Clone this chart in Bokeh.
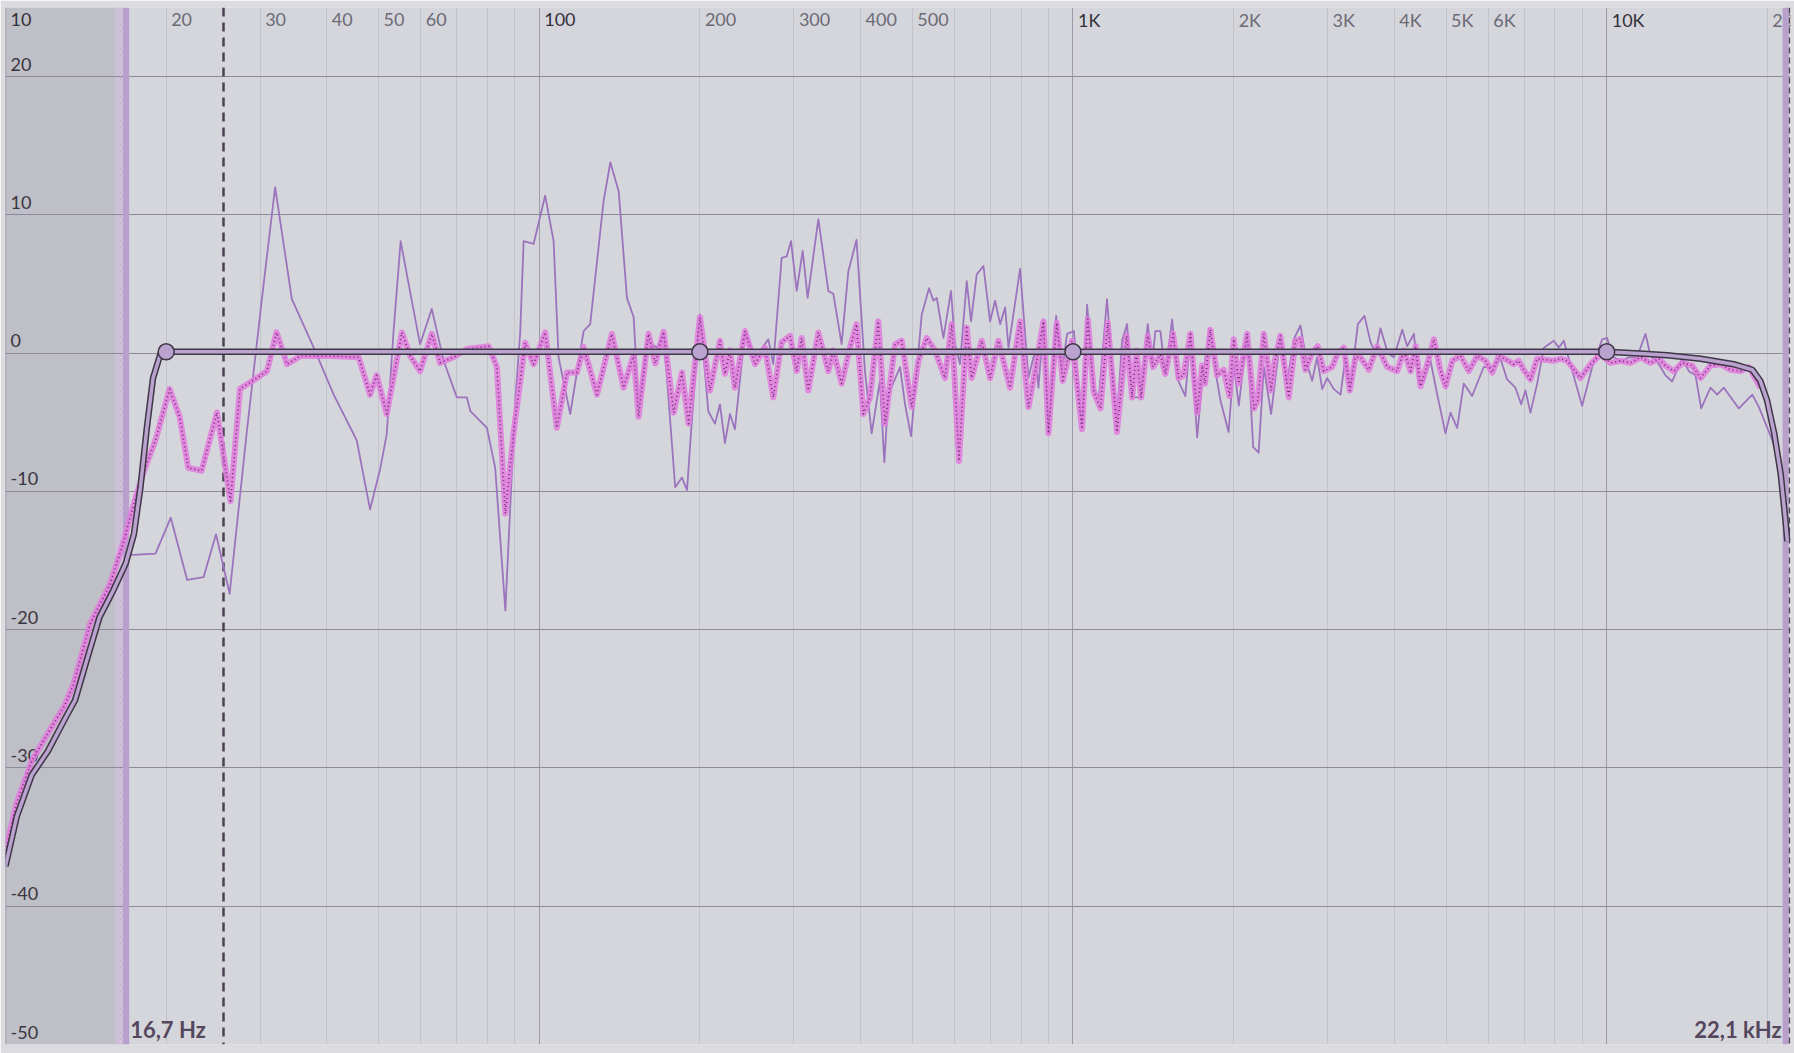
from bokeh.plotting import figure
from bokeh.models import Range1d
from bokeh.core.properties import value
from bokeh.embed import file_html
from bokeh.resources import INLINE

# ---------------- data ----------------
f_min, f_max = 10, 22100
db_min, db_max = -50, 25
low_cut_hz = 16.7
high_cut_hz = 22100
marker_hz = 25.6

db_ticks = [20, 10, 0, -10, -20, -30, -40, -50]
db_labels = ["20", "10", "0", "-10", "-20", "-30", "-40", "-50"]
grid_db = [20, 10, 0, -10, -20, -30, -40]

major_freqs = [100, 1000, 10000]
minor_freqs = [20, 30, 40, 50, 60, 70, 80, 90,
               200, 300, 400, 500, 600, 700, 800, 900,
               2000, 3000, 4000, 5000, 6000, 7000, 8000, 9000, 20000]
freq_label_values = [10, 20, 30, 40, 50, 60, 100, 200, 300, 400, 500,
                     1000, 2000, 3000, 4000, 5000, 6000, 10000, 20000]
freq_label_texts = ["10", "20", "30", "40", "50", "60", "100", "200", "300", "400", "500",
                    "1K", "2K", "3K", "4K", "5K", "6K", "10K", "20K"]
freq_label_major = [10, 100, 1000, 10000]

# EQ curve (thick)
eq_f = [10.0, 10.5, 11.2, 12.0, 12.9, 13.5, 14.2, 15.0, 15.9, 16.8, 17.4, 17.9, 18.4, 18.9,
        19.5, 20, 100, 1000, 10000, 11750, 12980, 15000, 17300, 18740, 19400, 19970,
        20600, 21180, 21600, 21800]
eq_db = [-37.1, -33.5, -30.5, -28.8, -26.5, -25.1, -22.2, -19.1, -17.2, -15.2, -13.1, -9.7, -5.4, -1.8,
         -0.1, 0.1, 0.1, 0.1, 0.1, -0.05, -0.15, -0.4, -0.8, -1.2, -2.0, -3.4,
         -5.8, -8.7, -11.9, -13.6]
node_f = [20, 200, 1000, 10000]
node_db = [0.1, 0.1, 0.1, 0.1]

# measured response (thin purple)
thin_f = [17.0, 19.1, 20.4, 21.9, 23.5, 24.8, 26.3, 28.3, 30.2, 32.0, 34.4, 37.8, 41.2, 45.5,
          48.2, 50.4, 51.8, 53.3, 55.0, 57.7, 59.8, 62.9, 66.2, 70.1, 73.2, 74.3, 79.8, 82.7,
          86.4, 90.2, 92.1, 93.5, 97.6, 102.6, 106.4, 108.7, 114.3, 121.1, 124.6, 132, 135.9,
          140.9, 146.0, 150.3, 153.5, 159.2, 166.2, 171, 179.8, 185.1, 189.2, 193, 200, 207.4,
          213.4, 218.1, 222.8, 227.7, 232.6, 243, 253.7, 268.7, 274.5, 284.6, 290.8, 296.3,
          303.7, 311.6, 318.4, 333.4, 348.1, 355.6, 368.6, 379.4, 393.1, 407.6, 419.6, 434.8,
          443.2, 451, 474.3, 484.6, 497.4, 520.8, 537.5, 547.8, 555.7, 571.9, 590.9, 601.2,
          614.3, 632.3, 644.2, 660.2, 679.6, 699.4, 714.7, 730.3, 746.3, 757.2, 796.1, 825.4,
          849.4, 861.7, 880.6, 899.8, 930, 954, 975, 1004, 1040, 1063, 1094, 1118, 1158, 1209,
          1236, 1263, 1291, 1338, 1381, 1407, 1427, 1458, 1490, 1534, 1567, 1624, 1660, 1709,
          1746, 1804, 1849, 1889, 1957, 2001, 2045, 2120, 2176, 2228, 2278, 2351, 2447, 2518,
          2592, 2668, 2746, 2806, 2867, 2931, 2994, 3082, 3172, 3240, 3311, 3418, 3517, 3610,
          3689, 3769, 3890, 3993, 4140, 4229, 4353, 4448, 4545, 4677, 4814, 4988, 5097, 5246,
          5398, 5596, 5884, 6100, 6323, 6508, 6746, 6914, 7044, 7197, 7409, 7625, 7960, 8134,
          8312, 8492, 8995, 9393, 9806, 10020, 10240, 10614, 11003, 11404, 11822, 12081, 12433,
          12888, 13265, 13853, 14254, 14670, 15033, 15648, 16106, 16577, 17688, 18740, 19286,
          19850, 20430, 21176]
thin_db = [-14.6, -14.5, -11.9, -16.4, -16.2, -13.1, -17.4, -5.8, 3.8, 12.0, 3.9, 0.4, -3.0, -6.3,
           -11.3, -8.3, -5.85, 1.4, 8.1, 3.8, 0.65, 3.2, -0.55, -3.2, -3.2, -4.2, -5.4, -8.3,
           -18.6, -3.4, 1.4, 8.1, 7.9, 11.4, 8.1, -0.3, -4.4, 1.6, 2.1, 11.0, 13.8,
           11.7, 4.0, 2.6, -3.9, 0.9, 0.4, 1.4, -9.7, -9.0, -9.9, -5.1, 2.8, -4.2,
           -5.1, -3.7, -6.5, -4.4, -5.5, 1.6, -0.3, 1.0, -0.8, 6.9, 7.0, 8.1,
           4.5, 7.4, 4.0, 9.7, 4.5, 4.3, 0.65, 5.9, 8.2, -1.3, -5.8, -2.0,
           -7.9, -3.0, -1.0, -3.7, -6.0, 2.8, 4.7, 3.8, 4.0, 1.1, 4.5, 0.65,
           -0.8, 5.2, 2.3, 5.7, 6.3, 2.3, 3.8, 2.1, 3.3, 0.4, 6.1, -1.8,
           0.2, -2.5, 2.3, -5.8, 2.7, -1.3, 1.4, 1.6, -5.4, 3.5, -2.5, -3.3, 3.9, -4.9,
           0.9, 2.1, -3.2, -3.2, 2.1, -0.8, 1.6, 1.6, -1.5, 2.45, -1.8, -3.1, 1.4, -6.1,
           -2.0, 1.8, -1.3, -3.4, -5.7, -0.8, -3.8, 1.4, -6.8, -7.2, -1.0, -4.4, 1.1, -2.2,
           1.0, 2.0, -0.8, -2.0, -0.3, -2.6, -1.8, -2.6, -3.0, -0.3, -2.5, 2.1, 2.7, 0.8,
           0.0, 1.8, 0.0, -0.3, 1.7, 0.5, 1.4, -2.2, -2.0, -0.55, -3.0, -5.8, -4.3, -5.4,
           -2.2, -3.1, -1.0, -1.0, -0.4, -1.9, -2.5, -3.7, -2.7, -4.3, -2.2, 0.4, 0.9, 0.4,
           0.9, -0.4, -3.8, -1.0, 1.0, 1.1, -0.2, -0.6, -0.3, -0.3, 1.4, -0.2, -0.6,
           -1.6, -2.05, -0.4, -1.3, -1.6, -4.0, -2.5, -3.0, -2.5, -4.0, -3.0, -3.9,
           -5.1, -6.3, -8.3]

# corrected response (pink dotted)
pink_f = [10.0, 10.5, 11.2, 12.0, 12.9, 13.4, 14.4, 15.7, 16.6, 17.4, 18.1, 19.1, 20.3, 21.2,
          22.0, 23.3, 24.9, 26.4, 27.5, 30.9, 32.2, 33.7, 35.7, 40.6, 45.9, 48.2, 49.6, 51.8,
          55.3, 57.3, 59.8, 62.9, 65.2, 69.1, 73.2, 80.4, 83.3, 86.4, 89.5, 94.1, 97.6, 102.6,
          107.9, 112.7, 117.7, 121.1, 128.3, 136.8, 143.9, 150.3, 153.5, 160.2, 165.0, 171.0,
          178.6, 185.1, 190.5, 200, 208.9, 218.1, 222.8, 227.7, 232.6, 243, 253.7, 264.8,
          274.5, 284.6, 295.1, 303.7, 310.2, 319.2, 333.4, 348.1, 355.6, 368.6, 382.1, 393.1,
          404.8, 416.7, 431.8, 444.4, 464.2, 477.6, 498.7, 513.3, 532.1, 551.5, 575.8, 592.6,
          611.6, 632.3, 646.1, 674.6, 699.4, 725, 762.2, 796.1, 825.4, 849.4, 880.6, 899.8,
          932.6, 957, 996, 1040, 1066, 1094, 1126, 1162, 1209, 1260, 1291, 1315, 1342, 1381,
          1413, 1458, 1490, 1540, 1578, 1612, 1660, 1709, 1746, 1768, 1809, 1862, 1916, 1964,
          2001, 2045, 2120, 2183, 2221, 2278, 2351, 2385, 2447, 2537, 2611, 2668, 2726, 2806,
          2875, 2950, 3058, 3126, 3217, 3301, 3383, 3458, 3584, 3715, 3880, 4051, 4169, 4291,
          4385, 4480, 4611, 4746, 4884, 4991, 5136, 5323, 5518, 5719, 5929, 6101, 6280, 6508,
          6697, 6842, 6991, 7197, 7409, 7960, 8195, 8433, 8931, 9325, 9736, 10165, 10614,
          11083, 11570, 12081, 12525, 12888, 13362, 13853, 14463, 14993, 15648, 16342, 17063,
          17814, 18468, 19420]
pink_db = [-36.0, -32.5, -29.5, -27.5, -25.5, -24.0, -19.6, -16.7, -13.8, -10.9, -8.7, -6.3, -2.6, -4.6,
           -8.3, -8.5, -4.3, -10.7, -2.6, -1.3, 1.5, -0.8, -0.2, -0.2, -0.3, -3.0, -1.6, -4.4,
           1.5, -0.2, -1.3, 1.4, -0.7, -0.3, 0.3, 0.5, -1.0, -11.6, -5.8, 0.75, -0.8, 1.5,
           -5.4, -1.4, -1.4, 0.45, -3.0, 1.4, -2.5, -0.1, -4.6, 1.4, -0.75, 1.55,
           -4.3, -1.4, -5.1, 2.6, -2.7, 0.9, -1.5, 0.2, -2.5, 1.6, -0.8, 0.4,
           -3.2, 0.8, 1.25, -1.3, 1.1, -2.7, 1.5, -1.3, 0.2, -2.2, 0.4, 2.1,
           -4.4, -3.2, 2.3, -5.1, 0.65, 0.9, -3.9, -0.55, 1.1, 0.2, -1.8, 2.1,
           -7.8, 1.85, -1.8, 0.9, -1.8, 0.9, -2.5, 2.3, -3.9, -1.3, 2.3, -5.8,
           2.2, -2.0, 0.9, -5.5, 2.45, -2.8, -4.0, 2.2, -5.7, 1.25, -3.2, 0.2, -3.2, 1.25,
           -1.0, -0.1, -1.5, 1.4, -1.8, -1.6, 1.4, -4.3, -0.9, -2.2, 1.7, -1.6, -1.2, -3.1,
           1.0, -2.2, 1.4, -4.0, -3.4, 1.4, -2.7, -0.7, 1.25, -3.2, 0.9, 1.05, -1.2, 0.0,
           0.5, -1.3, -1.0, -0.1, 0.4, -2.7, -0.3, -0.3, -1.2, 0.5, -1.0, -1.3, 0.2, -1.3,
           0.5, -2.4, -0.8, 1.0, -1.3, -2.4, -0.55, -0.2, -1.3, -0.2, -0.55, -1.4, -0.2, -0.5,
           -0.8, -0.55, -1.2, -1.9, -0.4, -0.55, -0.4, -0.55, -1.8, -0.8, -0.1, -0.7, -0.55,
           -0.7, -0.3, -0.7, -0.4, -0.9, -1.3, -0.7, -0.9, -1.8, -0.9, -0.8, -1.2,
           -1.3, -1.0, -2.5]

# ---------------- figure ----------------
PAGE_BG = "#dcdce0"
p = figure(width=1794, height=1053, x_axis_type="log",
           x_range=Range1d(f_min, f_max), y_range=Range1d(db_min, db_max),
           x_axis_location=None, y_axis_location=None,
           toolbar_location=None, output_backend="svg",
           min_border_left=5, min_border_right=4, min_border_top=7, min_border_bottom=9,
           background_fill_color="#d5d6db", border_fill_color=PAGE_BG,
           outline_line_color=None)
p.xgrid.grid_line_color = None
p.ygrid.grid_line_color = None

BAR = "#b9a0cc"
DARK = "#3e3645"

# left filtered region
p.quad(left=[f_min], right=[low_cut_hz * 0.961], bottom=[db_min], top=[db_max],
       fill_color="#bfbfc7", line_color=None)
p.quad(left=[low_cut_hz * 0.961], right=[low_cut_hz * 0.994], bottom=[db_min], top=[db_max],
       fill_color="#bdb5c8", line_color=None, hatch_pattern="right_diagonal_line",
       hatch_color="#d3c3de", hatch_scale=6, hatch_weight=2)

# grid
p.vspan(x=minor_freqs, line_color="#c3c3cb", line_width=1)
p.vspan(x=major_freqs, line_color="#9c9aa9", line_width=1)
p.hspan(y=grid_db, line_color="#8d8b9b", line_width=1)
p.vspan(x=[f_min * 1.002], line_color="#8d8b9b", line_width=1.5)

# frequency labels (top)
label_colors = ["#34303a" if f in freq_label_major else "#6c6a76" for f in freq_label_values]
p.text(x=freq_label_values, y=[24.1] * len(freq_label_values), text=freq_label_texts,
       x_offset=5, text_align="left", text_baseline="middle",
       text_font=value("Lato"), text_font_size="18px", text_color=label_colors)
# dB labels
p.text(x=[f_min] * len(db_ticks), y=[v + 0.9 for v in db_ticks], text=db_labels,
       x_offset=5, text_align="left", text_baseline="middle",
       text_font=value("Lato"), text_font_size="18px", text_color="#3a3640")

# cutoff bars
p.quad(left=[low_cut_hz * 0.994], right=[low_cut_hz * 1.021], bottom=[db_min], top=[db_max],
       fill_color=BAR, line_color=None)
p.quad(left=[high_cut_hz * 0.9665], right=[high_cut_hz * 0.992], bottom=[db_min], top=[db_max],
       fill_color=BAR, line_color=None)
p.vspan(x=[high_cut_hz * 0.997], line_color="#4a4252", line_width=1.5, line_dash="6 4")

# marker dashed line
p.vspan(x=[marker_hz], line_color="#4a4252", line_width=2.5, line_dash="9 6")

# curves
p.line(thin_f, thin_db, line_color="#9b74bd", line_width=1.8, line_join="round")
p.line(pink_f, pink_db, line_color="#e07ade", line_width=6, line_alpha=0.85, line_join="round")
p.line(pink_f, pink_db, line_color="#6e2c6c", line_width=1.6, line_dash="1 3", line_join="round")
p.line(eq_f, eq_db, line_color=DARK, line_width=6.5, line_join="round")
p.line(eq_f, eq_db, line_color="#baa3cf", line_width=3.5, line_join="round")
p.scatter(node_f, node_db, size=16, fill_color="#baa3cf", line_color=DARK, line_width=1.5)

# cutoff value labels
p.text(x=[low_cut_hz * 1.021], y=[-48.9], text=["16,7 Hz"], x_offset=1,
       text_align="left", text_baseline="middle", text_font=value("Lato"),
       text_font_style="bold", text_font_size="22px", text_color="#55475d")
p.text(x=[high_cut_hz * 0.9665], y=[-48.9], text=["22,1 kHz"], x_offset=-1,
       text_align="right", text_baseline="middle", text_font=value("Lato"),
       text_font_style="bold", text_font_size="22px", text_color="#55475d")

html = file_html(p, INLINE, title="EQ")
open("out.html", "w").write(html)
